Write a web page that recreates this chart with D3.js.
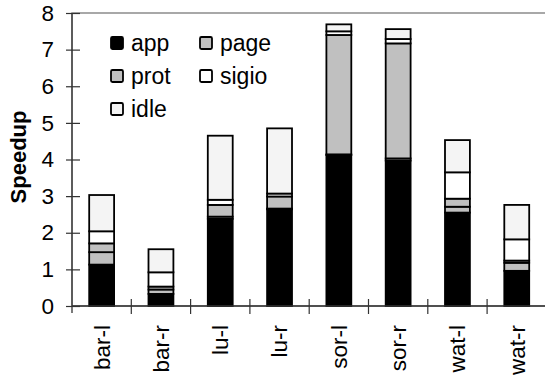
<!DOCTYPE html>
<html><head><meta charset="utf-8">
<script src="https://cdn.jsdelivr.net/npm/d3@7"></script>
<style>body{margin:0;background:#fff}svg{display:block}text{font-family:Arial,"Liberation Sans",sans-serif}</style>
</head><body>
<script>
const categories = ["bar-l","bar-r","lu-l","lu-r","sor-l","sor-r","wat-l","wat-r"];
const seriesNames = ["app","page","prot","sigio","idle"];
const app   = [1.13, 0.33, 2.38, 2.64, 4.12, 3.97, 2.55, 0.96];
const page  = [0.34, 0.12, 0.06, 0.02, 0.02, 0.06, 0.16, 0.22];
const prot  = [0.24, 0.08, 0.32, 0.33, 3.26, 3.14, 0.22, 0.06];
const sigio = [0.33, 0.39, 0.14, 0.08, 0.10, 0.12, 0.72, 0.58];
const idle  = [0.99, 0.63, 1.75, 1.78, 0.19, 0.27, 0.88, 0.94];
const yTicks = [0,1,2,3,4,5,6,7,8];
const colors = {app:"#000000", page:"#c0c0c0", prot:"#c0c0c0", sigio:"#ffffff", idle:"#f4f4f4"};

const W = 545, H = 379;
const L = 72, R = 546.4, T = 13, B = 306;
const svg = d3.select("body").append("svg").attr("width", W).attr("height", H);

const rows = categories.map((c,i)=>({cat:c, app:app[i], page:page[i], prot:prot[i], sigio:sigio[i], idle:idle[i]}));
const stacked = d3.stack().keys(seriesNames)(rows);

const x = d3.scaleBand().domain(categories).range([L, R]).paddingInner(0.58).paddingOuter(0.29);
const y = d3.scaleLinear().domain([0, 8]).range([B, T]);

// plot border (top/right)
svg.append("rect").attr("x", L).attr("y", T).attr("width", R - L).attr("height", B - T)
  .attr("fill", "none").attr("stroke", "#8c8c8c").attr("stroke-width", 1.5);

// bars
stacked.forEach(s => {
  svg.append("g").selectAll("rect").data(s).join("rect")
    .attr("x", d => x(d.data.cat))
    .attr("width", x.bandwidth())
    .attr("y", d => y(d[1]))
    .attr("height", d => y(d[0]) - y(d[1]))
    .attr("fill", colors[s.key])
    .attr("stroke", "#000").attr("stroke-width", 1.8);
});

// y axis
const yAxis = d3.axisLeft(y).tickValues(yTicks).tickFormat(d3.format("d")).tickSizeInner(0).tickSizeOuter(0).tickPadding(18);
const gy = svg.append("g").attr("transform", `translate(${L},0)`).call(yAxis);
gy.select(".domain").remove();
gy.selectAll("text").attr("font-size", 22.5).attr("fill", "#000").attr("font-family", "Arial, 'Liberation Sans', sans-serif");
gy.selectAll(".tick").append("line").attr("x1", -6).attr("x2", 8).attr("stroke", "#333").attr("stroke-width", 1.2);
svg.append("line").attr("x1", L).attr("x2", L).attr("y1", T).attr("y2", B + 7).attr("stroke", "#333").attr("stroke-width", 1.3);

// x axis
const gx = svg.append("g").attr("transform", `translate(0,${B})`);
gx.append("line").attr("x1", L).attr("x2", R).attr("y1", 0).attr("y2", 0).attr("stroke", "#333").attr("stroke-width", 1.3);
const step = x.step();
gx.selectAll("line.sep").data(categories.slice(1)).join("line").attr("class","sep")
  .attr("x1", d => x(d) - step * 0.29).attr("x2", d => x(d) - step * 0.29)
  .attr("y1", -7).attr("y2", 8).attr("stroke", "#333").attr("stroke-width", 1.2);
gx.selectAll("text").data(categories).join("text")
  .attr("transform", d => `translate(${x(d) + x.bandwidth()/2},19) rotate(-90)`)
  .attr("text-anchor", "end").attr("dy", "0.35em")
  .attr("font-size", 22.5).attr("fill", "#000").text(d => d);

// y label
svg.append("text").attr("transform", "translate(26,157) rotate(-90)")
  .attr("text-anchor", "middle").attr("font-size", 22).attr("font-weight", "bold").text("Speedup");

// legend
const legendPos = [[111,37],[200,37],[111,70],[200,70],[111,103]];
const lg = svg.append("g");
seriesNames.forEach((n,i) => {
  const [lx, ly] = legendPos[i];
  lg.append("rect").attr("x", lx).attr("y", ly).attr("width", 12).attr("height", 12).attr("rx", 1.5)
    .attr("fill", colors[n]).attr("stroke", "#000").attr("stroke-width", 1.8);
  lg.append("text").attr("x", lx + 20).attr("y", ly + 6).attr("dy", "0.35em")
    .attr("font-size", 23).attr("fill", "#000").text(n);
});
</script>
</body></html>
